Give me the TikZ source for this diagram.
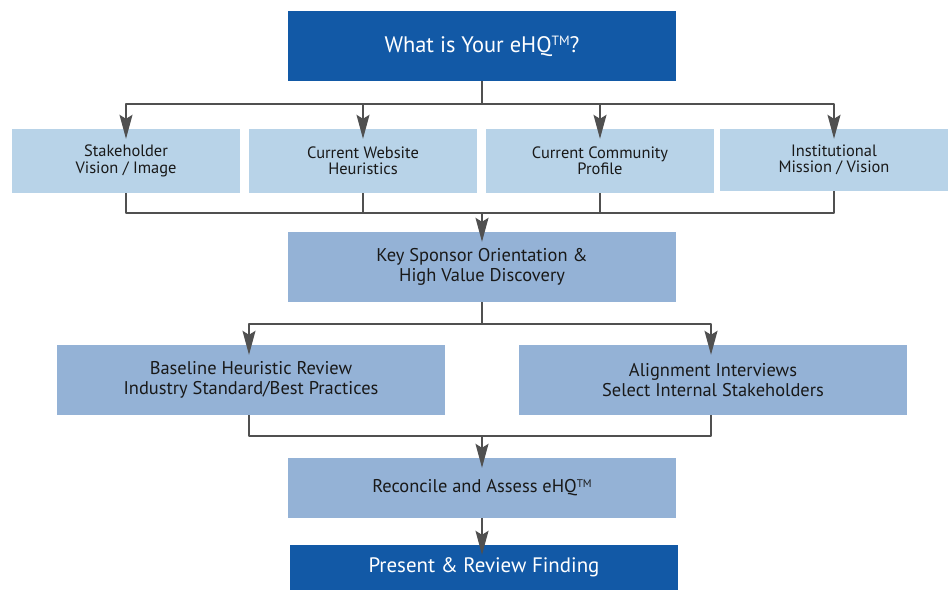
\documentclass[tikz,border=0pt]{standalone}
\usepackage{fontspec}
\setmainfont{PT Sans}
\usepackage{tikz}
\usetikzlibrary{arrows.meta,shapes}

\definecolor{darkbox}{RGB}{18,89,166}
\definecolor{lightbox}{RGB}{184,211,232}
\definecolor{midbox}{RGB}{148,178,214}
\definecolor{linegray}{RGB}{80,80,80}

\newcommand{\tmark}{\raisebox{0.3em}{\scalebox{0.6}{TM}}}

\tikzset{
  headbox/.style={fill=darkbox,text=white,minimum width=388bp,minimum height=70bp,font=\fontsize{22.5}{26}\selectfont},
  inputbox/.style={fill=lightbox,text=black!90,minimum width=228bp,minimum height=64bp,align=center,font=\fontsize{16.5}{16.5}\selectfont},
  stagebox/.style={fill=midbox,text=black!90,minimum width=388bp,minimum height=70bp,align=center,font=\fontsize{18.5}{19.5}\selectfont},
  link/.style={draw=linegray,line width=1.3bp},
  arr/.style={link,-{Stealth[length=24bp,width=13bp,inset=4bp]},shorten >=-10bp}
}

\begin{document}
\begin{tikzpicture}[line join=bevel]
\useasboundingbox (0bp,0bp) rectangle (951bp,590bp);
%%
\node (eHQ) at (482bp,544bp) [headbox] {What is Your eHQ\tmark?};
  \node (stake) at (126bp,429bp) [inputbox] {Stakeholder\\Vision / Image};
  \node (web) at (363bp,429bp) [inputbox] {Current Website\\Heuristics};
  \node (comm) at (600bp,429bp) [inputbox] {Current Community\\Profile};
  \node (inst) at (834bp,430bp) [inputbox, minimum height=62bp] {Institutional\\Mission / Vision};
  \node (sponsor) at (482bp,323bp) [stagebox] {Key Sponsor Orientation \&\\High Value Discovery};
  \node (base) at (251bp,210bp) [stagebox] {Baseline Heuristic Review\\Industry Standard/Best Practices};
  \node (align) at (713bp,210bp) [stagebox] {Alignment Interviews\\Select Internal Stakeholders};
  \node (recon) at (482bp,102bp) [stagebox, minimum height=60bp] {Reconcile and Assess eHQ\tmark};
  \node (present) at (484bp,22.5bp) [headbox, minimum height=45bp, font=\fontsize{21}{24}\selectfont] {Present \& Review Finding};
%
\coordinate (split1) at (482bp,486bp);
\coordinate (merge1) at (482bp,377bp);
\coordinate (split2) at (482bp,266bp);
\coordinate (merge2) at (482bp,154bp);
%
\draw [link] (eHQ) -- (split1);
\foreach \n in {stake,web,comm,inst}
  \draw [arr] (split1) -| (\n.north);
\foreach \n in {stake,web,comm,inst}
  \draw [link] (\n.south) |- (merge1);
\draw [arr] (merge1) -- (sponsor);
%
\draw [link] (sponsor) -- (split2);
\draw [arr] (split2) -| ([xshift=-2bp]base.north);
\draw [arr] (split2) -| ([xshift=-2bp]align.north);
\draw [link] ([xshift=-2bp]base.south) |- (merge2);
\draw [link] ([xshift=-2bp]align.south) |- (merge2);
\draw [arr] (merge2) -- (recon);
\draw [arr] (recon.south) -- (recon.south |- present.north);
%
\end{tikzpicture}
\end{document}
